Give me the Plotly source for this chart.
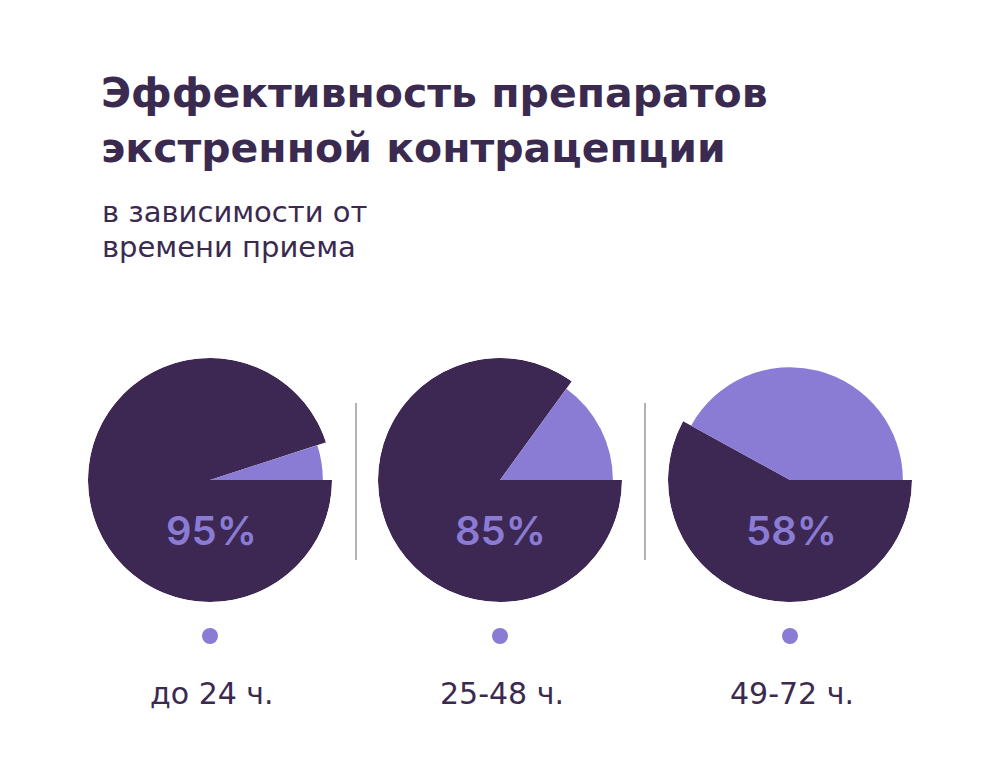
import plotly.graph_objects as go

categories = ["до 24 ч.", "25-48 ч.", "49-72 ч."]
effectiveness = [95, 85, 58]
title_lines = ["Эффективность препаратов", "экстренной контрацепции"]
subtitle_lines = ["в зависимости от", "времени приема"]

DARK = "#3c2853"
LIGHT = "#8a7bd4"
TEXT = "#3b2a4f"
FONT = "DejaVu Sans, sans-serif"

# the page places the figure 8px in from the top-left corner
OFF = 8
W, H = 984, 753


def px(x):
    return (x - OFF) / W


def py(y):
    return 1 - (y - OFF) / H


centers_x = [210, 500, 790]
center_y = 480
R = 122

fig = go.Figure()
layout_polars = {}
for i, (cat, val) in enumerate(zip(categories, effectiveness)):
    pid = "polar" if i == 0 else f"polar{i+1}"
    rest = 100 - val
    fig.add_trace(go.Barpolar(
        r=[1.0], theta=[val * 3.6 / 2], width=[val * 3.6],
        marker=dict(color=DARK, line=dict(width=0)),
        subplot=pid, hoverinfo="skip", showlegend=False))
    fig.add_trace(go.Barpolar(
        r=[0.925], theta=[360 - rest * 3.6 / 2], width=[rest * 3.6],
        marker=dict(color=LIGHT, line=dict(width=0)),
        subplot=pid, hoverinfo="skip", showlegend=False))
    cx = centers_x[i]
    layout_polars[pid] = dict(
        domain=dict(x=[px(cx - R), px(cx + R)],
                    y=[py(center_y + R), py(center_y - R)]),
        bgcolor="rgba(0,0,0,0)",
        bargap=0,
        angularaxis=dict(rotation=0, direction="clockwise", visible=False),
        radialaxis=dict(range=[0, 1], visible=False),
    )
    fig.add_annotation(x=px(cx + 1), y=py(530), xref="paper", yref="paper",
                       text=f"{val}%", showarrow=False,
                       font=dict(family="Inter, sans-serif", size=40, color=LIGHT, weight=600),
                       xanchor="center", yanchor="middle")
    fig.add_annotation(x=px(cx + 2), y=py(693), xref="paper", yref="paper",
                       text=cat, showarrow=False,
                       font=dict(family=FONT, size=30, color=TEXT),
                       xanchor="center", yanchor="middle")
    fig.add_shape(type="circle", xref="paper", yref="paper",
                  x0=px(cx - 8), x1=px(cx + 8),
                  y0=py(636 + 8), y1=py(636 - 8),
                  fillcolor=LIGHT, line=dict(width=0))

for sx in [356, 645]:
    fig.add_shape(type="line", xref="paper", yref="paper",
                  x0=px(sx), x1=px(sx), y0=py(403), y1=py(560),
                  line=dict(color="#666666", width=1))

for line, yc in zip(title_lines, [93, 148]):
    fig.add_annotation(x=px(99), y=py(yc), xref="paper", yref="paper",
                       text=line, showarrow=False,
                       font=dict(family=FONT, size=41, color=TEXT, weight=700),
                       xanchor="left", yanchor="middle")
for line, yc in zip(subtitle_lines, [212, 247]):
    fig.add_annotation(x=px(100), y=py(yc), xref="paper", yref="paper",
                       text=line, showarrow=False,
                       font=dict(family=FONT, size=29, color=TEXT),
                       xanchor="left", yanchor="middle")

fig.update_layout(width=W, height=H, margin=dict(l=0, r=0, t=0, b=0),
                  paper_bgcolor="white", plot_bgcolor="white",
                  **layout_polars)
fig.write_html("out.html")
